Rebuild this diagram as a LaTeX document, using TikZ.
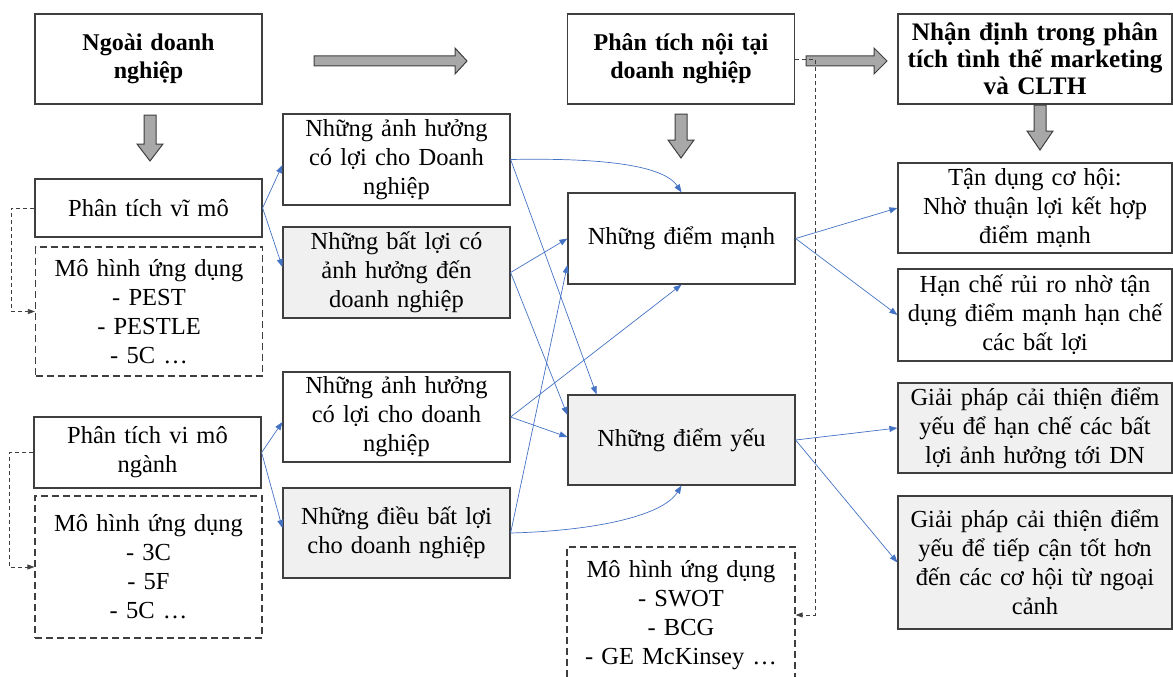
\documentclass[tikz,border=0pt]{standalone}
\usepackage{fontspec}
\setmainfont{Liberation Serif}
\usetikzlibrary{arrows.meta}
\definecolor{edge}{HTML}{3F3F3F}
\definecolor{shade}{HTML}{F0F0F0}
\definecolor{linkblue}{HTML}{4472C4}
\definecolor{blockgrey}{HTML}{A8A8A8}
\tikzset{
  box/.style={draw=edge, line width=1.2pt, inner sep=0pt, align=center,
              font=\fontsize{24.5}{29}\selectfont},
  hdr/.style={box, font=\bfseries\fontsize{24}{28}\selectfont},
  grey/.style={box, fill=shade},
  dbox/.style={box, dash pattern=on 7pt off 4pt},
  colA/.style={minimum width=227pt, text width=225pt},
  colR/.style={minimum width=274pt, text width=272pt},
  wire/.style={draw=linkblue, line width=0.7pt, -{Triangle[length=8pt,width=6pt]}},
  guide/.style={draw=edge, line width=0.8pt, dash pattern=on 4pt off 3pt,
                -{Triangle[length=7pt,width=5pt]}},
  fat/.style={fill=blockgrey, draw=edge, line width=1pt},
}
\begin{document}
\begin{tikzpicture}[x=1pt, y=-1pt]
\useasboundingbox (0,0) rectangle (1173,677);
\clip (0,0) rectangle (1173,677);

% headers
\node[hdr, colA, minimum height=90pt] (A) at (148.5,59) {Ngoài doanh\\nghiệp};
\node[hdr, colA, minimum height=90pt] (B) at (681,59) {Phân tích nội tại\\doanh nghiệp};
\node[hdr, colR, minimum height=90pt, font=\bfseries\fontsize{25.2}{27}\selectfont] (C) at (1035,59) {Nhận định trong phân\\tích tình thế marketing\\và CLTH};

% left column
\node[box, colA, minimum height=58pt] (L1) at (148.5,208) {Phân tích vĩ mô};
\node[dbox, colA, minimum height=129pt] (M1) at (149,311.5) {Mô hình ứng dụng\\- PEST\\- PESTLE\\- 5C …};
\node[box, colA, minimum height=71pt] (L2) at (147.5,452.5) {Phân tích vi mô\\ngành};
\node[dbox, colA, minimum height=142pt] (M2) at (148.5,567) {Mô hình ứng dụng\\- 3C\\- 5F\\- 5C …};

% second column
\node[box, colA, minimum height=91pt] (D1) at (396.5,159.5) {Những ảnh hưởng\\có lợi cho Doanh\\nghiệp};
\node[grey, colA, minimum height=91pt] (D2) at (396.5,272.5) {Những bất lợi có\\ảnh hưởng đến\\doanh nghiệp};
\node[box, colA, minimum height=90pt] (D3) at (396.5,417) {Những ảnh hưởng\\có lợi cho doanh\\nghiệp};
\node[grey, colA, minimum height=90pt] (D4) at (396.5,533) {Những điều bất lợi\\cho doanh nghiệp};

% middle column
\node[box, colA, minimum height=91pt] (S) at (681.5,238.5) {Những điểm mạnh};
\node[grey, colA, minimum height=90pt] (W) at (681.5,440) {Những điểm yếu};
\node[dbox, minimum width=228pt, text width=226pt, minimum height=136pt] (M3) at (681,615) {Mô hình ứng dụng\\- SWOT\\- BCG\\- GE McKinsey …};

% right column
\node[box, colR, minimum height=90pt] (R1) at (1035,208) {Tận dụng cơ hội:\\Nhờ thuận lợi kết hợp\\điểm mạnh};
\node[box, colR, minimum height=92pt] (R2) at (1035,315) {Hạn chế rủi ro nhờ tận\\dụng điểm mạnh hạn chế\\các bất lợi};
\node[grey, colR, minimum height=90pt] (R3) at (1035,428) {Giải pháp cải thiện điểm\\yếu để hạn chế các bất\\lợi ảnh hưởng tới DN};
\node[grey, colR, minimum height=133pt] (R4) at (1035,562.5) {Giải pháp cải thiện điểm\\yếu để tiếp cận tốt hơn\\đến các cơ hội từ ngoại\\cảnh};

% block arrows
\draw[fat] (314,56) -- (455,56) -- (455,48) -- (467,61) -- (455,74) -- (455,66) -- (314,66) -- cycle;
\draw[fat] (806,56) -- (874,56) -- (874,48) -- (887,61) -- (874,74) -- (874,66) -- (806,66) -- cycle;
\draw[fat] (144,115) -- (156,115) -- (156,144) -- (163,144) -- (150,161) -- (137,144) -- (144,144) -- cycle;
\draw[fat] (675,114) -- (687,114) -- (687,140) -- (694,140) -- (681,158) -- (668,140) -- (675,140) -- cycle;
\draw[fat] (1034,105) -- (1046,105) -- (1046,131) -- (1053,131) -- (1040,150) -- (1027,131) -- (1034,131) -- cycle;

% dashed references to the model boxes
\draw[guide] (L1.west) -- ++(-23,0) |- (M1.west);
\draw[guide] (L2.west) -- ++(-24,0) |- (M2.west);
\draw[guide] (B.east) -- ++(20,0) |- (M3.east);

% links between factors
\draw[wire] (L1.east) -- ([yshift=-5.5pt]D1.west);
\draw[wire] (L1.east) -- ([yshift=5.5pt]D2.west);
\draw[wire] (L2.east) -- ([yshift=-5pt]D3.west);
\draw[wire] (L2.east) -- ([yshift=5pt]D4.west);

\draw[wire] (D1.east) .. controls (590,158) and (662,163) .. (S.north);
\draw[wire] (D1.east) -- ([xshift=-85pt]W.north);
\draw[wire] (D2.east) -- (S.west);
\draw[wire] (D2.east) -- ([yshift=25pt]W.west);
\draw[wire] (D3.east) -- (S.south);
\draw[wire] (D3.east) -- ([yshift=3pt]W.west);
\draw[wire] (D4.east) -- ([yshift=-26.5pt]S.west);
\draw[wire] (D4.east) .. controls (590,531) and (662,517) .. (W.south);

\draw[wire] (S.east) -- (R1.west);
\draw[wire] (S.east) -- (R2.west);
\draw[wire] (W.east) -- (R3.west);
\draw[wire] (W.east) -- (R4.west);
\end{tikzpicture}
\end{document}
